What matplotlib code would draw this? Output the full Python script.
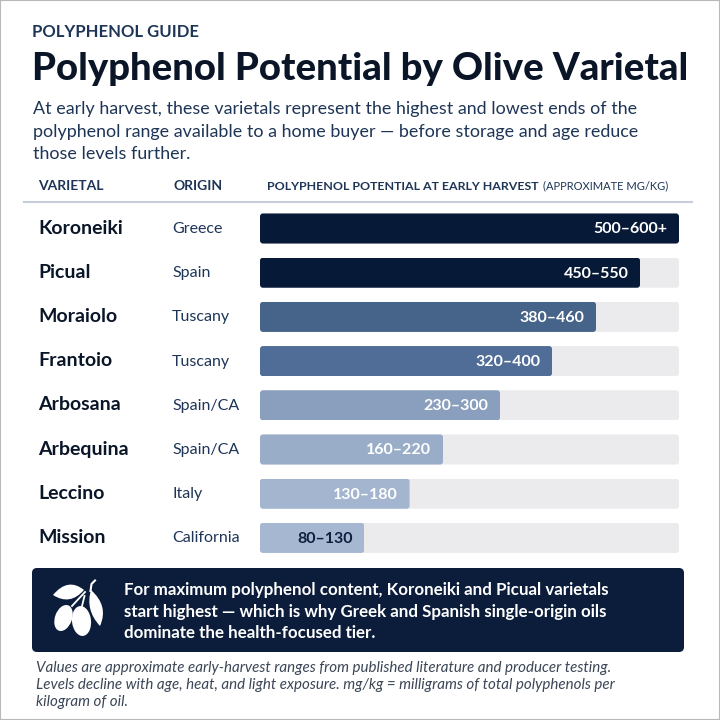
import matplotlib
matplotlib.use('Agg')
from matplotlib import pyplot as plt
from matplotlib.patches import Ellipse, FancyBboxPatch, PathPatch, Rectangle
from matplotlib.path import Path
from matplotlib.transforms import IdentityTransform

# chart data
varietals = ['Koroneiki', 'Picual', 'Moraiolo', 'Frantoio',
             'Arbosana', 'Arbequina', 'Leccino', 'Mission']
origins = ['Greece', 'Spain', 'Tuscany', 'Tuscany',
           'Spain/CA', 'Spain/CA', 'Italy', 'California']
range_labels = ['500–600+', '450–550', '380–460', '320–400',
                '230–300', '160–220', '130–180', '80–130']
# bar length as percent of the track (the drawn scale is not linear in mg/kg)
bar_lengths = [100, 90.7, 80.2, 69.7, 57.3, 43.7, 35.7, 24.9]
bar_colors = ['#061a38', '#061a38', '#466389', '#4f6d96',
              '#8a9fbe', '#9aadc8', '#a3b5cf', '#a5b7d1']
label_colors = ['white'] * 7 + ['#0c1f3d']

subtitle_lines = [
    'At early harvest, these varietals represent the highest and lowest ends of the',
    'polyphenol range available to a home buyer — before storage and age reduce',
    'those levels further.',
]
callout_lines = [
    'For maximum polyphenol content, Koroneiki and Picual varietals',
    'start highest — which is why Greek and Spanish single-origin oils',
    'dominate the health-focused tier.',
]
note_lines = [
    'Values are approximate early-harvest ranges from published literature and producer testing.',
    'Levels decline with age, heat, and light exposure. mg/kg = milligrams of total polyphenols per',
    'kilogram of oil.',
]

NAVY = '#0b1d3a'
HEAD = '#1e3557'
FONT = 'Lato'
SIZE = 720
ROW_STEP = 44.2
FIRST_ROW = 228.5


def rounded_clip(bar, radius=3):
    # rounded corners: clip the plain bar with a box in display pixels
    box = bar.get_window_extent()
    clip = FancyBboxPatch((box.x0, box.y0), box.width, box.height,
                          boxstyle=f'round,pad=0,rounding_size={radius}',
                          transform=IdentityTransform())
    bar.set_clip_path(clip)


def leaf(tip_a, tip_b, bend_a, bend_b):
    # two quadratic curves between the leaf tips
    codes = [Path.MOVETO, Path.CURVE3, Path.CURVE3, Path.CURVE3, Path.CURVE3]
    return PathPatch(Path([tip_a, bend_a, tip_b, bend_b, tip_a], codes), fc='white', ec='none')


fig = plt.figure(figsize=(7.2, 7.2), dpi=100, facecolor='white')

# page axes in pixels, y going down like the picture
page = fig.add_axes([0, 0, 1, 1])
page.set_xlim(0, SIZE)
page.set_ylim(SIZE, 0)
page.axis('off')
page.add_patch(Rectangle((0, 0), SIZE, SIZE, fill=False, ec='#b9b9b9', lw=1.5))

page.text(32, 32, 'POLYPHENOL GUIDE', family=FONT, weight='bold', fontsize=12,
          color=HEAD, va='center')
page.text(32, 69, 'Polyphenol Potential by Olive Varietal', family=FONT, weight='black',
          fontsize=27.5, color='#0a1628', va='center')
for i, line in enumerate(subtitle_lines):
    page.text(33, 109 + i * 22.5, line, family=FONT, fontsize=12.9, color=HEAD, va='center')

page.text(38, 186, 'VARIETAL', family=FONT, weight='bold', fontsize=10, color=HEAD, va='center')
page.text(173, 186, 'ORIGIN', family=FONT, weight='bold', fontsize=10, color=HEAD, va='center')
page.text(267, 186, 'POLYPHENOL POTENTIAL AT EARLY HARVEST', family=FONT, weight='bold',
          fontsize=8.9, color=HEAD, va='center')
page.text(543, 186, '(APPROXIMATE MG/KG)', family=FONT, fontsize=8, color=HEAD, va='center')
page.plot([24, 692], [201.5, 201.5], color='#c5ced9', lw=1.5)

# bars
rows = list(range(len(varietals)))
ax_top = FIRST_ROW - ROW_STEP / 2
ax_height = ROW_STEP * len(rows)
ax = fig.add_axes([260 / SIZE, 1 - (ax_top + ax_height) / SIZE, 419 / SIZE, ax_height / SIZE])
ax.set_xlim(0, 100)
ax.set_ylim(len(rows) - 0.5, -0.5)
ax.axis('off')
tracks = ax.barh(rows, [100] * len(rows), height=0.68, color='#ebebed')
bars = ax.barh(rows, bar_lengths, height=0.68, color=bar_colors)
for bar in list(tracks) + list(bars):
    rounded_clip(bar)
for row, length, text, color in zip(rows, bar_lengths, range_labels, label_colors):
    ax.text(length - 2.8, row + 0.02, text, family=FONT, weight='bold', fontsize=11.5,
            color=color, ha='right', va='center')

for i, (name, origin) in enumerate(zip(varietals, origins)):
    y = FIRST_ROW + i * ROW_STEP
    page.text(38, y - 0.5, name, family=FONT, weight='bold', fontsize=14, color='#0a1628', va='center')
    page.text(172, y + 0.5, origin, family=FONT, fontsize=11.5, color=HEAD, va='center')

# callout
page.add_patch(FancyBboxPatch((32, 568), 652, 84, boxstyle='round,pad=0,rounding_size=5',
                              fc=NAVY, ec='none'))
for i, line in enumerate(callout_lines):
    page.text(124, 590.5 + i * 21, line, family=FONT, weight='bold', fontsize=12.2,
              color='white', va='center')

# olive branch icon
page.add_patch(Ellipse((63.5, 618), 17, 27, angle=20, fc='white', ec='none'))
page.add_patch(Ellipse((81.5, 621), 19, 30, angle=-6, fc='white', ec='none'))
page.add_patch(leaf((53, 595), (84, 590), (68, 577), (70, 606)))
page.add_patch(leaf((91, 590), (100, 626), (85, 610), (109, 606)))
page.plot([72, 85], [606, 592], color='white', lw=1.3)
page.plot([82, 84.5], [606, 596], color='white', lw=1.3)
page.plot([90.5, 91.5, 95], [591, 584, 580.5], color='white', lw=1.5)

# footnote
for i, line in enumerate(note_lines):
    page.text(36, 668 + i * 17, line, family=FONT, style='italic', fontsize=10.9,
              color='#3b4656', va='center')

fig.savefig('out.png', dpi=100, facecolor='white')
